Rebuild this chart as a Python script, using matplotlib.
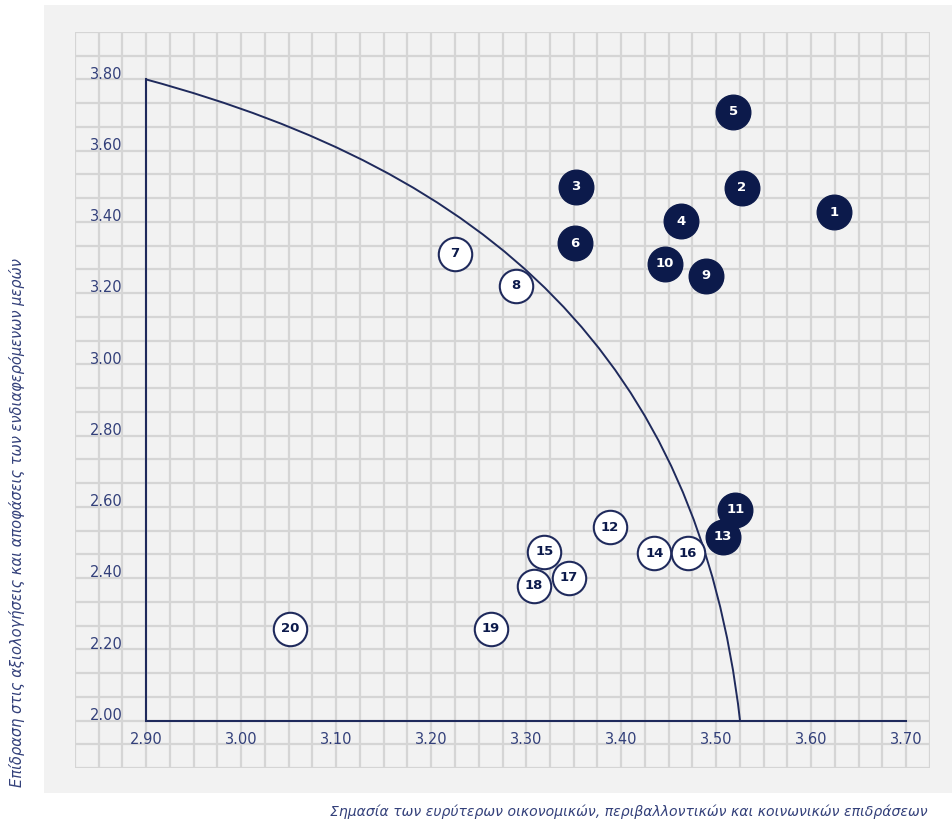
import numpy as np
import matplotlib
matplotlib.use("Agg")
import matplotlib.pyplot as plt
from matplotlib.patches import Rectangle, PathPatch
from matplotlib.path import Path

# ---------------- data ----------------
ids = list(range(1, 21))
x_vals = [3.624, 3.527, 3.352, 3.463, 3.518, 3.351, 3.2245, 3.289, 3.489, 3.446,
          3.520, 3.388, 3.507, 3.435, 3.319, 3.470, 3.345, 3.308, 3.263, 3.051]
y_vals = [3.427, 3.496, 3.499, 3.402, 3.709, 3.340, 3.310, 3.221, 3.249, 3.282,
          2.592, 2.542, 2.516, 2.470, 2.474, 2.470, 2.401, 2.378, 2.258, 2.258]
filled = [True, True, True, True, True, True, False, False, True, True,
          True, False, True, False, False, False, False, False, False, False]

x_ticks = [2.90, 3.00, 3.10, 3.20, 3.30, 3.40, 3.50, 3.60, 3.70]
y_ticks = [2.00, 2.20, 2.40, 2.60, 2.80, 3.00, 3.20, 3.40, 3.60, 3.80]
x_tick_labels = ["2.90", "3.00", "3.10", "3.20", "3.30", "3.40", "3.50", "3.60", "3.70"]
y_tick_labels = ["2.00", "2.20", "2.40", "2.60", "2.80", "3.00", "3.20", "3.40", "3.60", "3.80"]

# materiality boundary curve (start, two control points, end)
curve_pts = [(2.90, 3.80), (3.256, 3.543), (3.481, 3.026), (3.525, 2.00)]

x_label = "Σημασία των ευρύτερων οικονομικών, περιβαλλοντικών και κοινωνικών επιδράσεων"
y_label = "Επίδραση στις αξιολογήσεις και αποφάσεις των ενδιαφερόμενων μερών"

# ---------------- style ----------------
NAVY = "#0c1a4b"
LINE = "#1f2a5c"
TXT = "#33407a"
GRID = "#d5d5d5"
PANEL = "#f2f2f2"

W, H = 952, 824
fig = plt.figure(figsize=(W / 100, H / 100), dpi=100)
fig.patch.set_facecolor("white")

# light panel
panel = Rectangle((44 / W, (H - 793) / H), (W - 44) / W, (793 - 5) / H,
                  transform=fig.transFigure, facecolor=PANEL,
                  edgecolor="none", zorder=-5)
fig.add_artist(panel)

ax = fig.add_axes([75 / W, (H - 768) / H, 855 / W, 736 / H])
ax.set_zorder(2)
ax.set_facecolor("none")
xmin, xmax = 2.825, 3.725
ymin, ymax = 2.00 - 2 * 0.2 / 3, 3.80 + 2 * 0.2 / 3
ax.set_xlim(xmin, xmax)
ax.set_ylim(ymin, ymax)

# grid (36 x 31 cells)
gx = np.linspace(xmin, xmax, 37)
gy = np.linspace(ymin, ymax, 32)
for v in gx:
    ax.axvline(v, color=GRID, lw=1.6, zorder=1)
for v in gy:
    ax.axhline(v, color=GRID, lw=1.6, zorder=1)
for s in ax.spines.values():
    s.set_visible(False)
ax.set_xticks([])
ax.set_yticks([])

# L-shaped axes lines
ax.plot([x_ticks[0], x_ticks[0], x_ticks[-1]], [y_ticks[-1], y_ticks[0], y_ticks[0]],
        color=LINE, lw=1.5, zorder=2, solid_joinstyle="miter")

# curve
path = Path(curve_pts, [Path.MOVETO, Path.CURVE4, Path.CURVE4, Path.CURVE4])
ax.add_patch(PathPatch(path, facecolor="none", edgecolor=LINE, lw=1.4, zorder=2))

# tick labels
for v, lab in zip(y_ticks, y_tick_labels):
    ax.annotate(lab, xy=(x_ticks[0], v), xytext=(-17, 0.5), textcoords="offset points",
                ha="right", va="baseline", fontsize=10.5, color=TXT, zorder=3)
for v, lab in zip(x_ticks, x_tick_labels):
    ax.annotate(lab, xy=(v, y_ticks[0]), xytext=(0, -8.5), textcoords="offset points",
                ha="center", va="top", fontsize=10.5, color=TXT, zorder=3)

# markers
for i, (x, y, f) in enumerate(zip(x_vals, y_vals, filled)):
    z = 4 + i * 0.01
    if f:
        ax.scatter([x], [y], s=620, color=NAVY, edgecolors=NAVY, linewidths=1.0, zorder=z)
        ax.text(x, y, str(ids[i]), ha="center", va="center", fontsize=9.5,
                fontweight="bold", color="white", zorder=z + 0.005)
    else:
        ax.scatter([x], [y], s=580, color="white", edgecolors=LINE, linewidths=1.5, zorder=z)
        ax.text(x, y, str(ids[i]), ha="center", va="center", fontsize=9.5,
                fontweight="bold", color=NAVY, zorder=z + 0.005)

# axis titles
fig.text(330 / W, 1 - 812 / H, x_label, ha="left", va="center", fontsize=10.1,
         style="italic", color=TXT)
fig.text(17 / W, 1 - 523 / H, y_label, ha="center", va="center", rotation=90,
         fontsize=10.5, style="italic", color=TXT)

fig.savefig("out.png", dpi=100)
